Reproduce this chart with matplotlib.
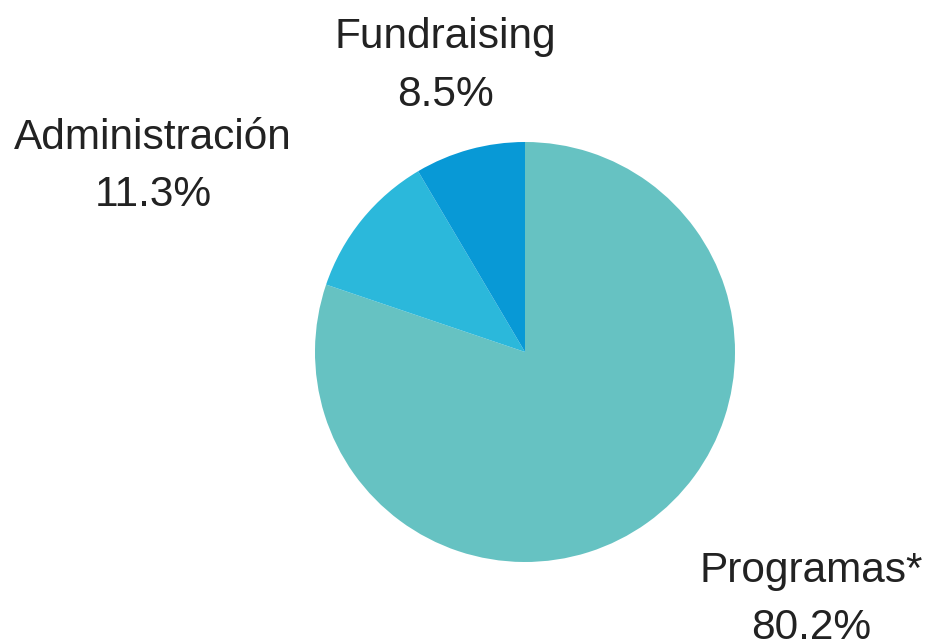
import matplotlib
matplotlib.use("Agg")
import matplotlib.pyplot as plt
import numpy as np

categories = ["Programas*", "Administración", "Fundraising"]
values = [80.2, 11.3, 8.5]
colors = ["#66c2c2", "#2bb8db", "#0899d6"]

plt.rcParams['font.family'] = ['Liberation Sans', 'DejaVu Sans']

fig = plt.figure(figsize=(9.28, 6.41), dpi=100)
ax = fig.add_axes([0, 0, 1, 1])
R = 210.0
cx, cy = 525.0, 641 - 352.0
wedges, _ = ax.pie(values, colors=colors, startangle=90, counterclock=False,
                   radius=1.0, wedgeprops=dict(linewidth=0))
ax.set_xlim(-cx / R, (928 - cx) / R)
ax.set_ylim(-cy / R, (641 - cy) / R)
ax.set_aspect('auto')
ax.axis('off')

dist = 1.43
yoff = -3.5 / R
for w, cat, v in zip(wedges, categories, values):
    ang = np.deg2rad((w.theta1 + w.theta2) / 2)
    x, y = dist * np.cos(ang), dist * np.sin(ang) + yoff
    if abs(x) < 0.5:
        ha = 'center'
    elif x > 0:
        ha = 'left'
    else:
        ha = 'right'
    ax.text(x, y, f"{cat}\n{v:.1f}%", ha=ha, va='center', multialignment='center',
            fontsize=30.5, color='#222222', linespacing=1.56)

fig.savefig("out.png", dpi=100)
